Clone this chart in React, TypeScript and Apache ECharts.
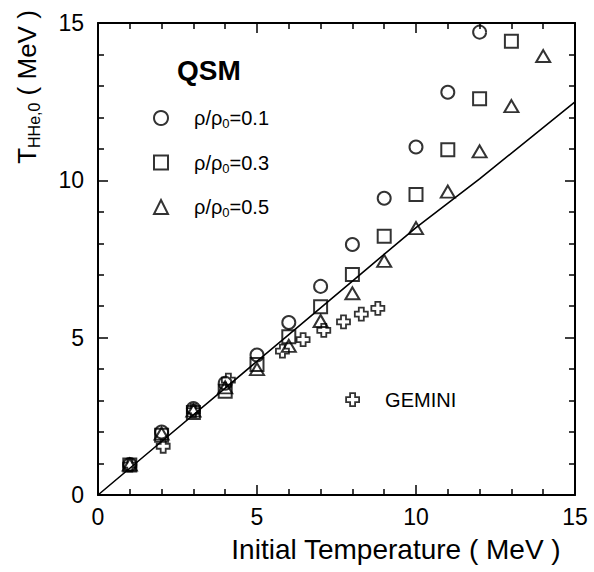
import React, { useEffect, useRef } from "react";
import * as echarts from "echarts";

// Reference curve T_HHe,0 vs initial temperature
const curveX = [0, 2, 4, 6, 8, 10, 12, 15];
const curveY = [0, 1.7, 3.4, 5.1, 6.8, 8.5, 10.05, 12.49];

// QSM results for three densities
const qsm01X = [1, 2, 3, 4, 5, 6, 7, 8, 9, 10, 11, 12];
const qsm01Y = [0.97, 2.0, 2.75, 3.55, 4.45, 5.48, 6.63, 7.96, 9.43, 11.06, 12.8, 14.71];

const qsm03X = [1, 2, 3, 4, 5, 6, 7, 8, 9, 10, 11, 12, 13];
const qsm03Y = [0.95, 1.9, 2.62, 3.3, 4.15, 5.03, 5.98, 7.01, 8.22, 9.55, 10.97, 12.59, 14.42];

const qsm05X = [1, 2, 3, 4, 5, 6, 7, 8, 9, 10, 11, 12, 13, 14];
const qsm05Y = [0.97, 1.95, 2.68, 3.42, 4.0, 4.74, 5.53, 6.41, 7.44, 8.48, 9.64, 10.92, 12.36, 13.95];

// GEMINI results
const geminiX = [1, 2.05, 3, 4.1, 5.8, 6.45, 7.1, 7.72, 8.28, 8.8];
const geminiY = [0.95, 1.55, 2.68, 3.65, 4.57, 4.94, 5.23, 5.5, 5.75, 5.93];

const xTicks = [0, 5, 10, 15];
const yTicks = [0, 5, 10, 15];

const seriesNames = ["ρ/ρ0=0.1", "ρ/ρ0=0.3", "ρ/ρ0=0.5"];
const geminiName = "GEMINI";

const FONT = "'Liberation Sans', Arial, Helvetica, sans-serif";
const CROSS = "path://M4,0H9V4H13V9H9V13H4V9H0V4H4Z";

const zip = (xs: number[], ys: number[]) => xs.map((x, i) => [x, ys[i]]);

const hollow = { color: "transparent", borderColor: "#000", borderWidth: 2 };

export default function App() {
  const ref = useRef<HTMLDivElement>(null);

  useEffect(() => {
    if (!ref.current) return;
    const chart = echarts.init(ref.current, null, { renderer: "svg" });

    const axisCommon = {
      type: "value" as const,
      min: 0,
      max: 15,
      interval: 5,
      axisLine: { show: true, onZero: false, lineStyle: { color: "#000", width: 2 } },
      axisTick: { show: true, inside: true, length: 10, lineStyle: { color: "#000", width: 1.5 } },
      minorTick: { show: true, splitNumber: 5, length: 6, lineStyle: { color: "#000", width: 1.5 } },
      splitLine: { show: false },
    };

    const legendRich = {
      f: { fontSize: 20, fontFamily: FONT, color: "#000", lineHeight: 24, padding: [0, 0, 0, 21] },
      n: { fontSize: 20, fontFamily: FONT, color: "#000", lineHeight: 24 },
      s: { fontSize: 13, fontFamily: FONT, color: "#000", lineHeight: 14, verticalAlign: "bottom" as const },
    };

    chart.setOption({
      animation: false,
      backgroundColor: "#fff",
      grid: { left: 98, top: 23, width: 477, height: 472, containLabel: false },
      xAxis: [
        {
          ...axisCommon,
          position: "bottom",
          axisLabel: {
            show: true,
            margin: 10,
            fontSize: 23,
            fontFamily: FONT,
            color: "#000",
            formatter: (v: number) => (xTicks.includes(v) ? String(v) : ""),
          },
        },
        { ...axisCommon, position: "top", axisLabel: { show: false } },
      ],
      yAxis: [
        {
          ...axisCommon,
          position: "left",
          axisLabel: {
            show: true,
            margin: 14,
            fontSize: 23,
            fontFamily: FONT,
            color: "#000",
            formatter: (v: number) => (yTicks.includes(v) ? String(v) : ""),
          },
        },
        { ...axisCommon, position: "right", axisLabel: { show: false } },
      ],
      legend: [
        {
          data: seriesNames,
          orient: "vertical",
          left: 153,
          top: 108,
          padding: 0,
          itemWidth: 14,
          itemHeight: 14,
          itemGap: 22.5,
          selectedMode: false,
          itemStyle: { color: "transparent", borderColor: "#000", borderWidth: 2 },
          textStyle: { color: "#000", fontSize: 20, fontFamily: FONT, rich: legendRich },
          formatter: (name: string) => {
            const [a, b] = name.split("0=");
            return `{f|${a}}{s|0}{n|=${b}}`;
          },
        },
        {
          data: [geminiName],
          orient: "vertical",
          left: 345.2,
          top: 389.7,
          padding: 0,
          itemWidth: 13,
          itemHeight: 13,
          selectedMode: false,
          itemStyle: { color: "transparent", borderColor: "#000", borderWidth: 1.8 },
          textStyle: { color: "#000", fontSize: 20, fontFamily: FONT, rich: legendRich },
          formatter: (name: string) => `{f|${name}}`,
        },
      ],
      graphic: [
        {
          type: "text",
          left: 177,
          top: 56,
          style: { text: "QSM", font: `bold 28px ${FONT}`, fill: "#000" },
        },
        {
          type: "text",
          x: 396,
          y: 549,
          style: {
            text: "Initial Temperature ( MeV )",
            font: `28px ${FONT}`,
            fill: "#000",
            align: "center",
            verticalAlign: "middle",
          },
        },
        {
          type: "text",
          x: 27,
          y: 87,
          rotation: Math.PI / 2,
          style: {
            text: "{t|T}{s|HHe,0}{t| ( MeV )}",
            align: "center",
            verticalAlign: "middle",
            fill: "#000",
            rich: {
              t: { fontSize: 26, fontFamily: FONT, fill: "#000", lineHeight: 30 },
              s: { fontSize: 16, fontFamily: FONT, fill: "#000", lineHeight: 16, verticalAlign: "bottom" },
            },
          },
        },
      ],
      series: [
        {
          type: "line",
          name: "curve",
          data: zip(curveX, curveY),
          symbol: "none",
          lineStyle: { color: "#000", width: 1.6 },
          z: 1,
        },
        {
          type: "scatter",
          name: seriesNames[0],
          data: zip(qsm01X, qsm01Y),
          symbol: "circle",
          symbolSize: 13,
          itemStyle: hollow,
          z: 3,
        },
        {
          type: "scatter",
          name: seriesNames[1],
          data: zip(qsm03X, qsm03Y),
          symbol: "rect",
          symbolSize: 13,
          itemStyle: hollow,
          z: 3,
        },
        {
          type: "scatter",
          name: seriesNames[2],
          data: zip(qsm05X, qsm05Y),
          symbol: "triangle",
          symbolSize: [14, 12],
          itemStyle: hollow,
          z: 3,
        },
        {
          type: "scatter",
          name: geminiName,
          data: zip(geminiX, geminiY),
          symbol: CROSS,
          symbolSize: 13,
          itemStyle: { color: "transparent", borderColor: "#000", borderWidth: 1.8 },
          z: 3,
        },
      ],
    });

    return () => chart.dispose();
  }, []);

  return (
    <div
      ref={ref}
      style={{ position: "absolute", left: 0, top: 0, width: 594, height: 572, background: "#fff" }}
    />
  );
}
